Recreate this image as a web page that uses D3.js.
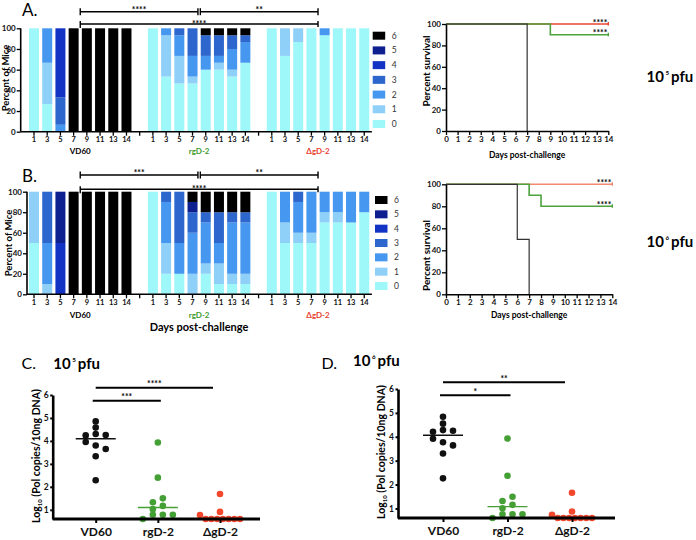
<!DOCTYPE html>
<html><head><meta charset="utf-8">
<script src="https://cdn.jsdelivr.net/npm/d3@7"></script>
<style>
body{margin:0;background:#fff}
svg{display:block}
text{font-family:Lato,"Open Sans",sans-serif}
</style>
</head><body>
<svg id="c" width="696" height="540"></svg>
<script>
// ---------- data ----------
const days = ["1","3","5","7","9","11","13","14"];
const groups = ["VD60","rgD-2","ΔgD-2"];
const scores = [0,1,2,3,4,5,6];
const scoreColors = ["#9ef7f8","#8fd0f8","#4597ef","#2d67cd","#1233c4","#0e208f","#000000"];
const groupColors = ["#000000","#3c9b2c","#e8412e"];

// percent of mice at clinical score 0..6, per day (10^5 pfu)
const A_VD60 = [[100,0,0,0,0,0,0],[26.7,40,33.3,0,0,0,0],[0,0,6.7,26.6,66.7,0,0],
  [0,0,0,0,0,0,100],[0,0,0,0,0,0,100],[0,0,0,0,0,0,100],[0,0,0,0,0,0,100],[0,0,0,0,0,0,100]];
const A_rgD2 = [[100,0,0,0,0,0,0],[53.3,40,6.7,0,0,0,0],[46.7,26.6,20,6.7,0,0,0],[46.7,6.6,20,26.7,0,0,0],
  [60,0,13.3,20,0,0,6.7],[60,6.7,6.6,20,0,0,6.7],[53.3,6.7,20,13.3,0,0,6.7],[66.7,0,20,6.6,0,0,6.7]];
const A_dgD2 = [[100,0,0,0,0,0,0],[73.3,26.7,0,0,0,0,0],[86.7,13.3,0,0,0,0,0],[100,0,0,0,0,0,0],
  [93.3,0,6.7,0,0,0,0],[100,0,0,0,0,0,0],[100,0,0,0,0,0,0],[100,0,0,0,0,0,0]];
// 10^6 pfu
const B_VD60 = [[50,50,0,0,0,0,0],[0,10,40,50,0,0,0],[0,0,0,0,50,50,0],
  [0,0,0,0,0,0,100],[0,0,0,0,0,0,100],[0,0,0,0,0,0,100],[0,0,0,0,0,0,100],[0,0,0,0,0,0,100]];
const B_rgD2 = [[100,0,0,0,0,0,0],[20,30,40,10,0,0,0],[20,0,30,50,0,0,0],[0,20,40,20,0,10,10],
  [20,10,40,10,0,0,20],[10,20,20,30,0,0,20],[10,10,50,10,0,0,20],[10,10,50,10,0,0,20]];
const B_dgD2 = [[100,0,0,0,0,0,0],[50,20,30,0,0,0,0],[50,10,30,10,0,0,0],[50,10,40,0,0,0,0],
  [70,10,20,0,0,0,0],[70,10,20,0,0,0,0],[70,0,30,0,0,0,0],[80,0,20,0,0,0,0]];

// bracket significance (bars)
const barSigA = ["****","**","****"];
const barSigB = ["***","**","****"];

// survival: [day, percent surviving]
const survA = [[[0,100],[7,0]], [[0,100],[9,90],[14,90]], [[0,100],[14,100]]];
const survB = [[[0,100],[6,50],[7,0]], [[0,100],[7,90],[8,80],[14,80]], [[0,100],[14,100]]];
const survSig = ["","****","****"];

// log10 Pol copies / 10ng DNA
const qC = [
  [4.85,4.58,4.24,3.95,3.33,2.29,4.30,4.26,3.80,3.65],
  [3.93,2.40,1.33,1.50,1.03,1.17,0.60,0.78,0.78,0.78],
  [1.69,0.91,0.77,0.60,0.60,0.60,0.60,0.60,0.60,0.60]];
const qD = [
  [4.84,4.55,4.21,3.92,3.30,2.26,4.28,4.25,3.77,3.64],
  [3.93,2.37,1.31,1.49,1.01,1.15,0.60,0.76,0.76,0.76],
  [1.66,0.87,0.73,0.60,0.60,0.60,0.60,0.60,0.60,0.60]];
const qSigC = [["VD60","rgD-2","***"],["VD60","ΔgD-2","****"]];
const qSigD = [["VD60","rgD-2","*"],["VD60","ΔgD-2","**"]];

// ---------- drawing ----------
const svg = d3.select("#c");
const FONT = 'Lato,"Open Sans",sans-serif';

function styleAxis(sel, size, weight){
  sel.selectAll("text").attr("font-size",size).attr("font-weight",weight||"bold").attr("fill","#111").attr("font-family",FONT);
  sel.selectAll("line").attr("stroke","#000").attr("stroke-width",1.3);
  sel.selectAll("path.domain").attr("stroke","#000").attr("stroke-width",1.6);
}

function supLabel(x, y, base, sup, tail, size){
  const t = svg.append("text").attr("x",x).attr("y",y).attr("font-size",size).attr("font-weight","bold").attr("fill","#000");
  t.append("tspan").text(base);
  t.append("tspan").attr("dy",-size*0.45).attr("font-size",size*0.42).attr("dx",1.5).text(sup);
  t.append("tspan").attr("dy",size*0.45).attr("font-size",size).attr("dx",2).text(tail);
}

function stackPanel(cfg){
  const g = svg.append("g");
  const slots = [];
  groups.forEach((gr,gi)=>{ if(gi>0) slots.push("gap"+gi); days.forEach(d=>slots.push(gr+"|"+d)); });
  const step = 13.21;
  const x = d3.scaleBand().domain(slots).range([27.4, 27.4+26*step]).paddingInner(0.243).paddingOuter(0.1215);
  const y = d3.scaleLinear().domain([0,100]).range(cfg.yr);
  const cx = k => x(k) + x.bandwidth()/2;

  const stack = d3.stack().keys(scores);
  cfg.data.forEach((gd,gi)=>{
    const rows = gd.map((v,di)=>{ const o={slot:groups[gi]+"|"+days[di]}; scores.forEach(s=>o[s]=v[s]); return o; });
    const series = stack(rows);
    series.forEach(ser=>{
      g.append("g").attr("fill",scoreColors[ser.key]).selectAll("rect")
        .data(ser.filter(d=>d[1]-d[0]>0)).join("rect")
        .attr("x",d=>x(d.data.slot)).attr("width",x.bandwidth())
        .attr("y",d=>y(d[1])).attr("height",d=>y(d[0])-y(d[1]));
    });
  });

  // axes
  const ya = g.append("g").attr("transform",`translate(${cfg.axisX},0)`)
    .call(d3.axisLeft(y).tickValues([0,20,40,60,80,100]).tickSize(4).tickPadding(1).tickSizeOuter(0));
  styleAxis(ya, 8);
  ya.select("path.domain").remove();
  g.append("line").attr("x1",cfg.axisX).attr("x2",cfg.axisX).attr("y1",y(0)).attr("y2",y(100)).attr("stroke","#000").attr("stroke-width",1.6);
  const xa = g.append("g").attr("transform",`translate(0,${y(0)})`)
    .call(d3.axisBottom(x).tickSize(4).tickPadding(1).tickSizeOuter(0).tickFormat(k=>k.startsWith("gap")?"":k.split("|")[1]));
  styleAxis(xa, 7.5);
  xa.select("path.domain").remove();
  g.append("line").attr("x1",cfg.axisX).attr("x2",x.range()[1]+1).attr("y1",y(0)).attr("y2",y(0)).attr("stroke","#000").attr("stroke-width",1.6);

  // group labels
  groups.forEach((gr,gi)=>{
    const c = (cx(gr+"|1")+cx(gr+"|14"))/2;
    g.append("text").attr("x",c).attr("y",cfg.groupY).attr("text-anchor","middle")
      .attr("font-size",8).attr("font-weight","bold").attr("fill",groupColors[gi]).text(gr);
  });

  // legend
  const ly = d3.scalePoint().domain([6,5,4,3,2,1,0]).range(cfg.legendY);
  scores.forEach(s=>{
    g.append("rect").attr("x",cfg.legendX).attr("y",ly(s)-4).attr("width",12.5).attr("height",8).attr("fill",scoreColors[s]);
    g.append("text").attr("x",cfg.legendX+19).attr("y",ly(s)+3).attr("font-size",8.5).attr("fill","#333").text(s);
  });

  // brackets (between day 7 and day 9 of each group)
  const mid = gr => (cx(gr+"|7")+cx(gr+"|9"))/2;
  const br = (x1,x2,yy,label,ends,textDy)=>{
    g.append("line").attr("x1",x1).attr("x2",x2).attr("y1",yy).attr("y2",yy).attr("stroke","#000").attr("stroke-width",1.4);
    ends.forEach(e=>g.append("line").attr("x1",e[0]).attr("x2",e[0]).attr("y1",yy-e[1]).attr("y2",yy+e[2]).attr("stroke","#000").attr("stroke-width",1.4));
    g.append("text").attr("x",(x1+x2)/2).attr("y",yy+textDy).attr("text-anchor","middle").attr("font-size",8.5).attr("font-weight","bold").text(label);
  };
  const m0=mid(groups[0]), m1=mid(groups[1]), m2=mid(groups[2]);
  br(m0, m1-1.2, cfg.brY[0], cfg.sig[0], [[m0,3.5,3.5],[m1-1.2,3.5,3.5]], 1);
  br(m1+1.2, m2, cfg.brY[0], cfg.sig[1], [[m1+1.2,3.5,3.5],[m2,3.5,3.5]], 1);
  br(m0, m2, cfg.brY[1], cfg.sig[2], [[m0,3,4],[m2,3,3]], 2.5);

  // title & y label
  svg.append("text").attr("x",22).attr("y",cfg.titleY).attr("font-size",17).attr("fill","#000").text(cfg.title);
  svg.append("text").attr("transform",`translate(${cfg.ylab[0]},${cfg.ylab[1]}) rotate(-90)`).attr("text-anchor","middle")
    .attr("font-size",9.5).attr("font-weight","bold").text("Percent of Mice");
  if(cfg.xlabel) svg.append("text").attr("x",199).attr("y",cfg.xlabel).attr("text-anchor","middle").attr("font-size",11).attr("font-weight","bold").text("Days post-challenge");
}

function survPanel(cfg){
  const g = svg.append("g");
  const x = d3.scaleLinear().domain([0,14]).range(cfg.xr);
  const y = d3.scaleLinear().domain([0,100]).range(cfg.yr);
  const line = d3.line().x(d=>x(d[0])).y(d=>y(d[1])).curve(d3.curveStepAfter);
  const cols = ["#333333","#4ea23e",cfg.red];
  const widths = [1.2,1.6,1.6];
  [2,1,0].forEach(gi=>{
    g.append("path").attr("d",line(cfg.data[gi])).attr("fill","none").attr("stroke",cols[gi]).attr("stroke-width",widths[gi]);
    const last = cfg.data[gi][cfg.data[gi].length-1];
    if(last[1]>0){
      g.append("line").attr("x1",x(last[0])).attr("x2",x(last[0])).attr("y1",y(last[1])-2).attr("y2",y(last[1])+1.5).attr("stroke",cols[gi]).attr("stroke-width",1.4);
      g.append("text").attr("x",x(last[0])-1).attr("y",y(last[1])+1.5).attr("text-anchor","end").attr("font-size",8.5).attr("font-weight","bold").text(survSig[gi]);
    }
  });
  const ya = g.append("g").attr("transform",`translate(${cfg.xr[0]},0)`)
    .call(d3.axisLeft(y).tickValues([0,20,40,60,80,100]).tickSize(4).tickPadding(1).tickSizeOuter(0));
  styleAxis(ya, 8);
  const xa = g.append("g").attr("transform",`translate(0,${cfg.yr[0]})`)
    .call(d3.axisBottom(x).tickValues(d3.range(0,15)).tickSize(4).tickPadding(1).tickSizeOuter(0));
  styleAxis(xa, 8);
  g.append("text").attr("x",(cfg.xr[0]+cfg.xr[1])/2).attr("y",cfg.xlab).attr("text-anchor","middle").attr("font-size",8.5).attr("font-weight","bold").text("Days post-challenge");
  g.append("text").attr("transform",`translate(${cfg.ylab[0]},${cfg.ylab[1]}) rotate(-90)`).attr("text-anchor","middle")
    .attr("font-size",10).attr("font-weight","bold").text("Percent survival");
}

function scatterPanel(cfg){
  const g = svg.append("g");
  const x = d3.scalePoint().domain(groups).range(cfg.xr);
  const y = d3.scaleLinear().domain([0.6,6]).range(cfg.yr);
  const binW = 0.35, binO = 0.48;
  cfg.data.forEach((vals,gi)=>{
    // binned dot-plot layout: points sharing a row are spread side by side
    const rows = d3.group(vals.map((v,i)=>({v,i})), d=>Math.floor((d.v-binO)/binW));
    const pts = [];
    rows.forEach(arr=>{
      const n = arr.length, sp = n>1 ? Math.min(10, 40/(n-1)) : 0;
      arr.forEach((d,k)=>pts.push({v:d.v, dx:(k-(n-1)/2)*sp}));
    });
    g.append("g").selectAll("circle").data(pts).join("circle")
      .attr("cx",d=>x(groups[gi])+d.dx).attr("cy",d=>y(d.v)).attr("r",3.3).attr("fill",cfg.colors[gi]);
    const med = d3.median(vals);
    g.append("line").attr("x1",x(groups[gi])-20).attr("x2",x(groups[gi])+20).attr("y1",y(med)).attr("y2",y(med))
      .attr("stroke",cfg.colors[gi]).attr("stroke-width",1.3);
  });
  const ya = g.append("g").attr("transform",`translate(${cfg.axisX},0)`)
    .call(d3.axisLeft(y).tickValues([1,2,3,4,5,6]).tickFormat(d3.format("d")).tickSize(2.5).tickPadding(1.5).tickSizeOuter(0));
  styleAxis(ya, 8.5);
  ya.selectAll("line").attr("stroke-width",2);
  ya.select("path.domain").attr("stroke-width",2.6);
  const xa = g.append("g").attr("transform",`translate(0,${cfg.yr[0]})`)
    .call(d3.axisBottom(x).tickSize(4).tickPadding(4.5).tickSizeOuter(0));
  styleAxis(xa, 12);
  xa.selectAll("line").attr("stroke-width",2);
  xa.select("path.domain").attr("d",`M${cfg.axisX},0H${cfg.xEnd}`).attr("stroke-width",3);
  // significance bars
  cfg.sig.forEach((s,lv)=>{
    const yy = cfg.sigY[lv];
    const x1 = lv===0 ? x(s[0])-3 : x(s[0]);
    const x2 = lv===0 ? x(s[1])+3 : x(s[1])-7;
    g.append("line").attr("x1",x1).attr("x2",x2).attr("y1",yy).attr("y2",yy).attr("stroke","#000").attr("stroke-width",2);
    g.append("text").attr("x",(x1+x2)/2).attr("y",yy-0.5).attr("text-anchor","middle").attr("font-size",8.5).attr("font-weight","bold").text(s[2]);
  });
  // y label
  const t = g.append("text").attr("transform",`translate(${cfg.ylab[0]},${cfg.ylab[1]}) rotate(-90)`).attr("text-anchor","middle")
    .attr("font-size",10.5).attr("font-weight","bold");
  t.append("tspan").text("Log");
  t.append("tspan").attr("dy",2.5).attr("font-size",6).text("10");
  t.append("tspan").attr("dy",-2.5).text(" (Pol copies/10ng DNA)");
  svg.append("text").attr("x",cfg.title[0]).attr("y",cfg.title[1]).attr("font-size",16).text(cfg.title[2]);
  supLabel(cfg.pfu[0], cfg.pfu[1], "10", cfg.pfu[2], "pfu", 15);
}

stackPanel({data:[A_VD60,A_rgD2,A_dgD2], yr:[131.7,28.3], axisX:20.7, groupY:154, legendX:372.7, legendY:[35.7,124],
  brY:[11.7,24], sig:barSigA, title:"A.", titleY:16, ylab:[8.5,78]});
stackPanel({data:[B_VD60,B_rgD2,B_dgD2], yr:[294.3,191.7], axisX:27, groupY:318, legendX:375, legendY:[200,286],
  brY:[175,189.3], sig:barSigB, title:"B.", titleY:182, ylab:[12,243], xlabel:331});

survPanel({data:survA, xr:[446,608.3], yr:[131,24], red:"#e8452f", xlab:158, ylab:[429.5,71]});
survPanel({data:survB, xr:[446,612.3], yr:[294.3,184.3], red:"#f28a70", xlab:318, ylab:[430,255.5]});
supLabel(646.5, 82, "10", "5", "pfu", 15);
supLabel(646.5, 247, "10", "6", "pfu", 15);

scatterPanel({data:qC, xr:[95.7,220], yr:[519,395], axisX:52.7, xEnd:260, colors:["#111","#44a035","#f2472c"],
  sig:qSigC, sigY:[400.7,387.7], ylab:[39.5,456], title:[21.5,368.5,"C."], pfu:[53.3,368.5,"5"]});
scatterPanel({data:qD, xr:[443,572], yr:[518,389], axisX:398, xEnd:615, colors:["#111","#44a035","#f2472c"],
  sig:qSigD, sigY:[395.3,382.3], ylab:[384.5,452], title:[321.5,368.5,"D."], pfu:[353,366,"6"]});
</script>
</body></html>
